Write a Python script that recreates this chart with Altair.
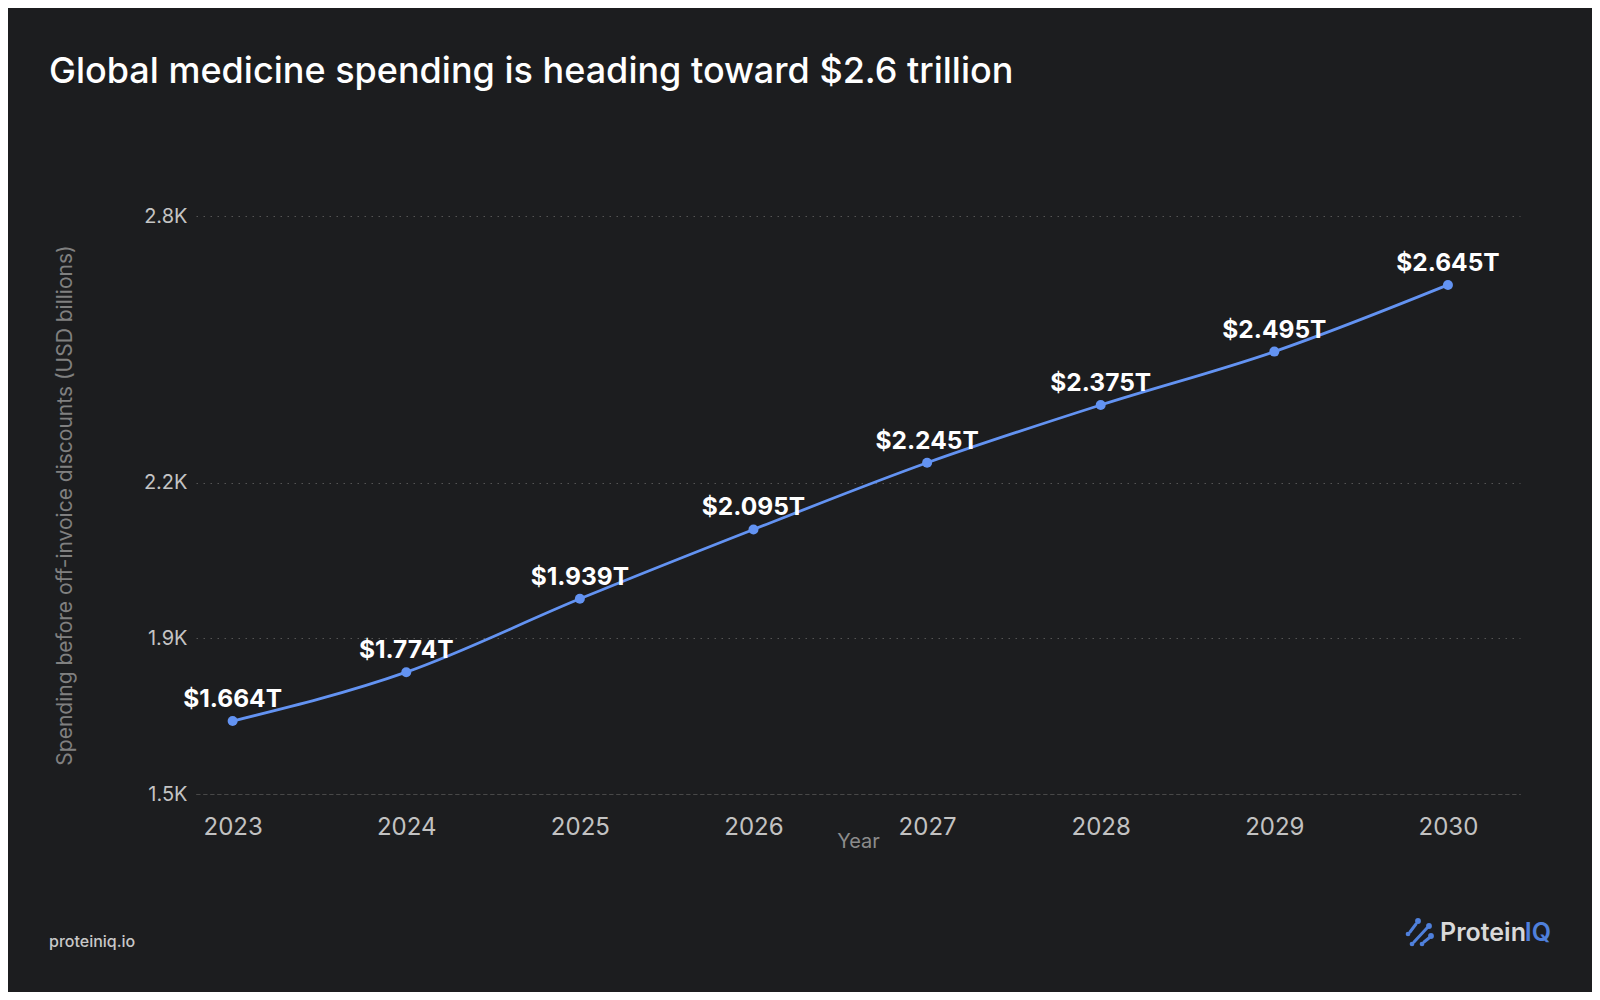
import altair as alt
import pandas as pd

# ---- data ----
years = [2023, 2024, 2025, 2026, 2027, 2028, 2029, 2030]
spending = [1664, 1774, 1939, 2095, 2245, 2375, 2495, 2645]  # USD billions
y_ticks = [1500, 1850, 2200, 2800]
y_tick_labels = ["1.5K", "1.9K", "2.2K", "2.8K"]

title_text = "Global medicine spending is heading toward $2.6 trillion"
y_title = "Spending before off-invoice discounts (USD billions)"
x_title = "Year"
footer_text = "proteiniq.io"

df = pd.DataFrame({"Year": years, "Spending": spending})

# ---- style ----
BG = "#1c1d1f"
BLUE = "#6393f2"
LOGO_BLUE = "#4f80dc"
FONT = "Inter"
W, H = 1324, 578
OX, OY = 196, 216  # page position of the plot origin

label_expr = " : ".join(
    f"datum.value == {v} ? '{t}'" for v, t in zip(y_ticks, y_tick_labels)
) + " : ''"

x_enc = alt.X(
    "Year:Q",
    scale=alt.Scale(domain=[2022.789, 2030.415], nice=False, zero=False),
    axis=alt.Axis(
        values=years, format="d", title=x_title,
        labelFont=FONT, labelFontSize=24, labelColor="#c2c2c2", labelPadding=21,
        ticks=False, tickSize=0, grid=False,
        domain=True, domainColor="#484848", domainDash=[4, 3], domainWidth=1,
        titleFont=FONT, titleFontSize=20, titleFontWeight="normal", titleColor="#8c8c8c",
        titleX=W / 2, titleY=47, titleBaseline="middle", titleAlign="center",
    ),
)
y_enc = alt.Y(
    "Spending:Q",
    scale=alt.Scale(domain=[1500, 2800], nice=False, zero=False),
    axis=alt.Axis(
        values=y_ticks, labelExpr=label_expr, title=y_title,
        labelFont=FONT, labelFontSize=20, labelColor="#c4c4c4", labelPadding=9,
        ticks=False, tickSize=0, domain=False,
        grid=True, gridColor="#555555", gridDash=[1.5, 5.5], gridWidth=1.2,
        titleFont=FONT, titleFontSize=21, titleFontWeight="normal", titleColor="#808080",
        titleAngle=270, titleX=-131, titleY=H / 2, titleBaseline="middle", titleAlign="center",
    ),
)

base = alt.Chart(df).encode(x=x_enc, y=y_enc)

line = base.mark_line(interpolate="monotone", color=BLUE, strokeWidth=2.8)
points = base.mark_circle(size=100, color=BLUE, opacity=1)
labels = base.transform_calculate(
    label="'$' + format(datum.Spending / 1000, '.3f') + 'T'"
).mark_text(
    dy=-21, font=FONT, fontSize=24.5, fontWeight="bold", color="#ffffff", baseline="middle"
).encode(text="label:N")


def deco_text(text, px, py, **kw):
    return alt.Chart(alt.Data(values=[{}])).mark_text(**kw).encode(
        x=alt.value(px - OX), y=alt.value(py - OY), text=alt.value(text)
    )


def deco_rule(x1, y1, x2, y2):
    return alt.Chart(alt.Data(values=[{}])).mark_rule(
        color=LOGO_BLUE, strokeWidth=3, strokeCap="round"
    ).encode(
        x=alt.value(x1 - OX), y=alt.value(y1 - OY),
        x2=alt.value(x2 - OX), y2=alt.value(y2 - OY),
    )


def deco_dot(px, py, size=34):
    return alt.Chart(alt.Data(values=[{}])).mark_circle(
        color=LOGO_BLUE, opacity=1, size=size
    ).encode(x=alt.value(px - OX), y=alt.value(py - OY))


title = deco_text(title_text, 49, 83, font=FONT, fontSize=36, fontWeight=500,
                  color="#ffffff", align="left", baseline="alphabetic")
footer = deco_text(footer_text, 49, 942, font=FONT, fontSize=16, fontWeight=500,
                   color="#c8c8c8", align="left", baseline="middle")
logo1 = deco_text("Protein", 1440, 933, font=FONT, fontSize=25, fontWeight=600,
                  color="#d9d9d9", align="left", baseline="middle")
logo2 = deco_text("IQ", 1551, 933, font=FONT, fontSize=25, fontWeight=600,
                  color=LOGO_BLUE, align="right", baseline="middle")

icon = [
    deco_rule(1410, 932, 1416, 924), deco_dot(1418, 921), deco_dot(1408, 934, 22),
    deco_rule(1414, 942, 1427, 928), deco_dot(1429, 926), deco_dot(1412, 944, 22),
    deco_rule(1424, 942, 1429, 938), deco_dot(1431, 936), deco_dot(1422, 944, 22),
]

chart = alt.layer(
    line, points, labels, title, footer, logo1, logo2, *icon
).properties(
    width=W, height=H, background=BG,
    padding={"left": OX - 8, "top": OY - 8, "right": 1592 - OX - W, "bottom": 992 - OY - H},
    autosize="none",
).configure(font=FONT).configure_view(stroke=None)

chart.save("out.html", embed_options={"renderer": "svg", "actions": False})
